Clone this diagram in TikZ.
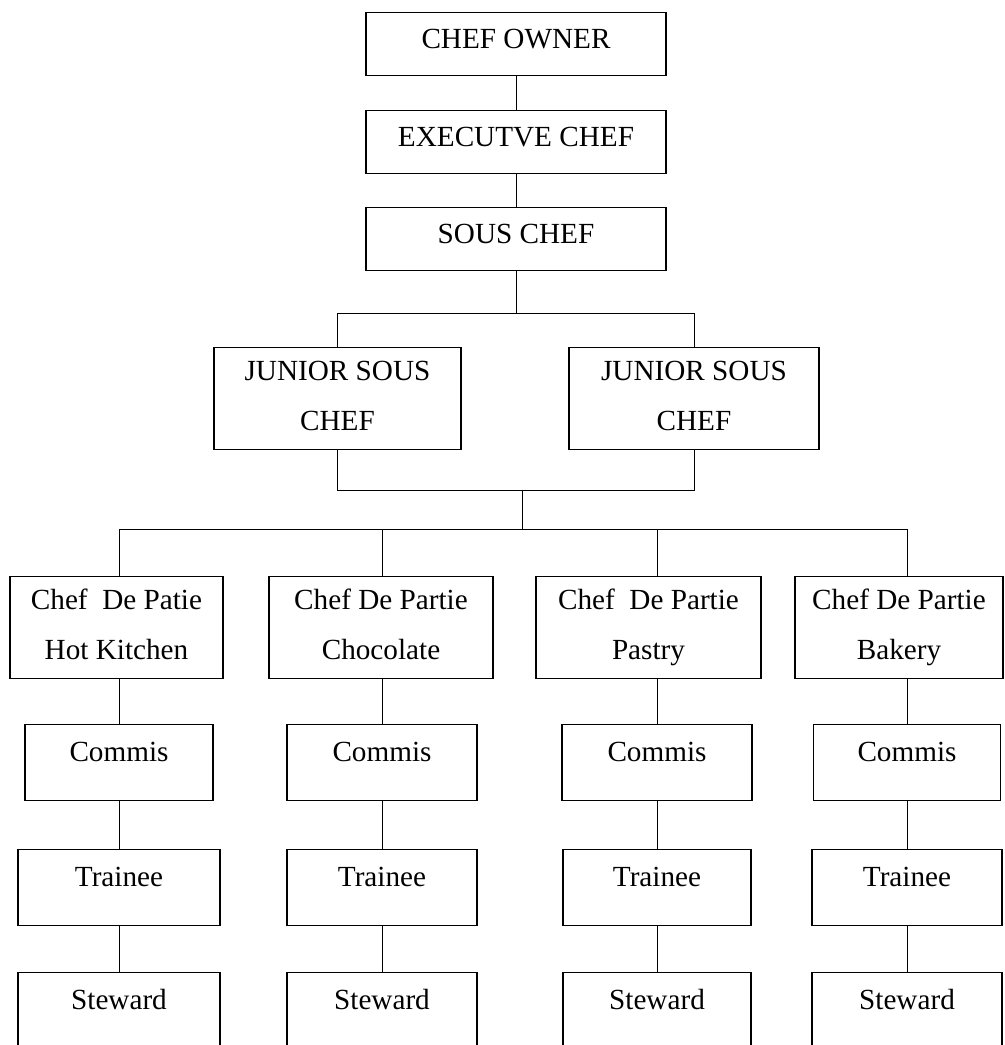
\documentclass[tikz,border=0pt]{standalone}
\usepackage{fontspec}
\setmainfont{Liberation Serif}
\usetikzlibrary{calc}

\tikzset{
  box/.style={draw,line width=0.6pt,inner sep=0pt,anchor=north,align=center,
    font=\fontsize{14.6}{25}\selectfont,execute at end node=\vphantom{y}},
  topbox/.style={box,minimum width=150pt,text height=18pt,text depth=13.5pt},
  lowbox/.style={box,text height=18.5pt,text depth=19.5pt},
}

\begin{document}
\begin{tikzpicture}[x=0.5pt,y=-0.5pt,line width=0.5pt]
       \useasboundingbox(0,0)rectangle(1005,1045);
       \clip(0,0)rectangle(1005,1045);

       \node[topbox](Own)at(516,12){CHEF OWNER};%最上段
       \node[topbox](Exe)at(516,110){EXECUTVE CHEF};
       \node[topbox](Sous)at(516,207){SOUS CHEF};
       \node[box,minimum width=123.5pt,minimum height=51pt](JL)at(337.5,347){JUNIOR SOUS\\CHEF};
       \node[box,minimum width=125pt,minimum height=51pt](JR)at(694,347){JUNIOR SOUS\\CHEF};

       \coordinate(J)at(522,490);%二人の合流点
       \coordinate(K)at(522,529);%四列への分岐点

       \draw(Own)--(Exe);
       \draw(Exe)--(Sous);
       \draw(Sous.south)--++(0,42)-|(JL.north);
       \draw(Sous.south)--++(0,42)-|(JR.north);
       \draw(JL.south)--(JL.south|-J)--(JR.south|-J)--(JR.south);
       \draw(J)--(K);

       \foreach \i/\cx/\bx/\bw/\mw/\tw/\txt in{
           1/119/116.5/213/188/202/{Chef\ \ De Patie\\Hot Kitchen},
           2/382/381/224/190/190/{Chef De Partie\\Chocolate},
           3/657/648.5/225/190/188/{Chef\ \ De Partie\\Pastry},
           4/907/899/208/187/190/{Chef De Partie\\Bakery}}
       {
           \node[box,minimum width=\bw*0.5pt,minimum height=51pt](C\i)at(\bx,576){\txt};
           \node[lowbox,minimum width=\mw*0.5pt](M\i)at(\cx,724){Commis};
           \node[lowbox,minimum width=\tw*0.5pt](T\i)at(\cx,849){Trainee};
           \node[lowbox,minimum width=\tw*0.5pt,text depth=60pt](S\i)at(\cx,972){Steward};
           \draw(K)-|(C\i.north-|M\i);%各列への線
           \draw(M\i.north)--(M\i.north|-C\i.south);
           \draw(M\i)--(T\i);
           \draw(T\i)--(S\i);
       }
\end{tikzpicture}
\end{document}
